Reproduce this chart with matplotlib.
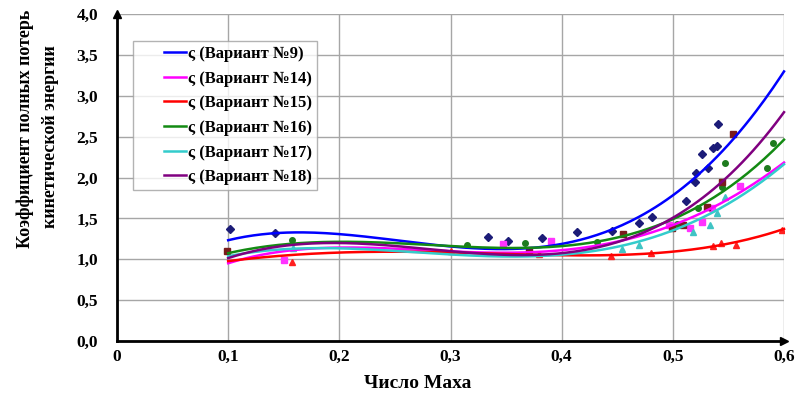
import numpy as np
import matplotlib
matplotlib.use("Agg")
import matplotlib.pyplot as plt
from matplotlib.legend_handler import HandlerBase
from matplotlib.lines import Line2D

plt.rcParams['font.family'] = ['Liberation Serif', 'DejaVu Serif']
plt.rcParams['font.weight'] = 'bold'

# ---- data ----
series_labels = ["ς (Вариант №9)", "ς (Вариант №14)", "ς (Вариант №15)",
                 "ς (Вариант №16)", "ς (Вариант №17)", "ς (Вариант №18)"]

# trend-line readings (x = Mach number)
trend_x = [0.10, 0.15, 0.20, 0.25, 0.30, 0.35, 0.40, 0.45, 0.50, 0.55, 0.60]
trend_9 = [1.24, 1.31, 1.31, 1.24, 1.15, 1.14, 1.20, 1.36, 1.76, 2.45, 3.28]
trend_14 = [0.96, 1.08, 1.14, 1.14, 1.11, 1.09, 1.08, 1.20, 1.45, 1.73, 2.18]
trend_15 = [0.98, 1.04, 1.08, 1.10, 1.08, 1.07, 1.04, 1.05, 1.10, 1.19, 1.37]
trend_16 = [1.08, 1.17, 1.21, 1.21, 1.17, 1.13, 1.15, 1.27, 1.49, 1.88, 2.46]
trend_17 = [1.04, 1.11, 1.15, 1.10, 1.05, 1.04, 1.05, 1.14, 1.39, 1.65, 2.17]
trend_18 = [1.02, 1.15, 1.20, 1.17, 1.11, 1.05, 1.05, 1.22, 1.52, 2.01, 2.80]

# measured points
pts9_x = [0.102, 0.142, 0.334, 0.352, 0.382, 0.414, 0.445, 0.470, 0.481, 0.512,
          0.520, 0.521, 0.526, 0.532, 0.536, 0.541, 0.540]
pts9_y = [1.37, 1.32, 1.27, 1.22, 1.26, 1.33, 1.34, 1.44, 1.52, 1.71,
          1.94, 2.06, 2.29, 2.12, 2.36, 2.65, 2.38]
pts14_x = [0.150, 0.347, 0.390, 0.497, 0.515, 0.526, 0.535, 0.560]
pts14_y = [0.99, 1.19, 1.22, 1.42, 1.38, 1.46, 1.63, 1.90]
pts15_x = [0.157, 0.300, 0.380, 0.444, 0.480, 0.536, 0.543, 0.557, 0.598]
pts15_y = [0.97, 1.10, 1.06, 1.04, 1.08, 1.16, 1.20, 1.17, 1.36]
pts16_x = [0.157, 0.315, 0.367, 0.432, 0.504, 0.523, 0.544, 0.547, 0.585, 0.590]
pts16_y = [1.23, 1.17, 1.20, 1.21, 1.43, 1.63, 1.88, 2.18, 2.12, 2.42]
pts17_x = [0.158, 0.454, 0.470, 0.518, 0.533, 0.540, 0.547]
pts17_y = [1.14, 1.12, 1.17, 1.33, 1.42, 1.56, 1.76]
pts18_x = [0.099, 0.371, 0.455, 0.499, 0.509, 0.531, 0.544, 0.554]
pts18_y = [1.10, 1.11, 1.31, 1.38, 1.42, 1.64, 1.94, 2.53]

x_ticks = [0, 0.1, 0.2, 0.3, 0.4, 0.5, 0.6]
x_ticklabels = ["0", "0,1", "0,2", "0,3", "0,4", "0,5", "0,6"]
y_ticks = [0, 0.5, 1.0, 1.5, 2.0, 2.5, 3.0, 3.5, 4.0]
y_ticklabels = ["0,0", "0,5", "1,0", "1,5", "2,0", "2,5", "3,0", "3,5", "4,0"]

line_colors = ['#0000ff', '#ff00ff', '#ff0000', '#138a13', '#33cccc', '#800080']
marker_colors = ['#1c1c78', '#ff33ff', '#ff2020', '#1e7b1e', '#40c4c4', '#7a1c1c']
markers = ['D', 's', '^', 'o', '^', 's']
trends = [trend_9, trend_14, trend_15, trend_16, trend_17, trend_18]
pts = [(pts9_x, pts9_y), (pts14_x, pts14_y), (pts15_x, pts15_y),
       (pts16_x, pts16_y), (pts17_x, pts17_y), (pts18_x, pts18_y)]


class ShortLineHandler(HandlerBase):
    """Draw the legend line only in the right part of the handle box."""
    def create_artists(self, legend, orig_handle, xdescent, ydescent,
                       width, height, fontsize, trans):
        y = height / 2.0 - ydescent
        x1 = -xdescent + width
        x0 = x1 - width * 0.47
        ln = Line2D([x0, x1], [y, y], color=orig_handle.get_color(),
                    linewidth=orig_handle.get_linewidth())
        ln.set_transform(trans)
        return [ln]


# ---- figure ----
W, H = 811, 396
fig = plt.figure(figsize=(W / 100, H / 100), dpi=100)
ax = fig.add_axes([117 / W, 1 - 341 / H, (784 - 117) / W, (341 - 14) / H])
ax.set_xlim(0, 0.6)
ax.set_ylim(0, 4.0)

ax.set_xticks(x_ticks)
ax.set_xticklabels(x_ticklabels, fontsize=12.5, fontweight='bold')
ax.set_yticks(y_ticks)
ax.set_yticklabels(y_ticklabels, fontsize=12.5, fontweight='bold')
ax.tick_params(axis='x', length=0, pad=6)
ax.tick_params(axis='y', length=0, pad=13.5)
ax.grid(True, color='#a6a6a6', linewidth=1.0)
ax.set_axisbelow(True)
for s in ['top', 'right']:
    ax.spines[s].set_visible(False)
for s in ['left', 'bottom']:
    ax.spines[s].set_linewidth(2.0)
    ax.spines[s].set_color('black')
ax.plot([0], [4.0], marker='^', color='black', markersize=6, clip_on=False, zorder=5)
ax.plot([0.6], [0], marker='>', color='black', markersize=6, clip_on=False, zorder=5)

xs = np.linspace(0.1, 0.6, 200)
for (px, py), c, m in zip(pts, marker_colors, markers):
    ax.plot(px, py, linestyle='none', marker=m, color=c, markersize=4, zorder=3)

handles = []
for tr, c, lab in zip(trends, line_colors, series_labels):
    coef = np.polyfit(trend_x, tr, 4)
    h, = ax.plot(xs, np.polyval(coef, xs), color=c, linewidth=1.8, label=lab, zorder=4,
                 clip_on=False)
    handles.append(h)

leg = fig.legend(handles=handles, loc='upper left',
                 bbox_to_anchor=(133 / W, 1 - 41 / H),
                 prop={'family': 'Liberation Serif', 'weight': 'bold', 'size': 12},
                 frameon=True, fancybox=False, handlelength=2.9, handletextpad=0.12,
                 labelspacing=0.52, borderpad=0.3, borderaxespad=0,
                 handler_map={Line2D: ShortLineHandler()})
leg.get_frame().set_edgecolor('#a0a0a0')
leg.get_frame().set_linewidth(1.0)

fig.text(418 / W, 1 - 383 / H, "Число Маха", ha='center', va='center',
         fontsize=14, fontweight='bold')
fig.text(25 / W, 1 - 129 / H, "Коэффициент полных потерь", ha='center', va='center',
         rotation=90, fontsize=13, fontweight='bold')
fig.text(51 / W, 1 - 137 / H, "кинетической энергии", ha='center', va='center',
         rotation=90, fontsize=13, fontweight='bold')

fig.savefig("out.png", dpi=100)
